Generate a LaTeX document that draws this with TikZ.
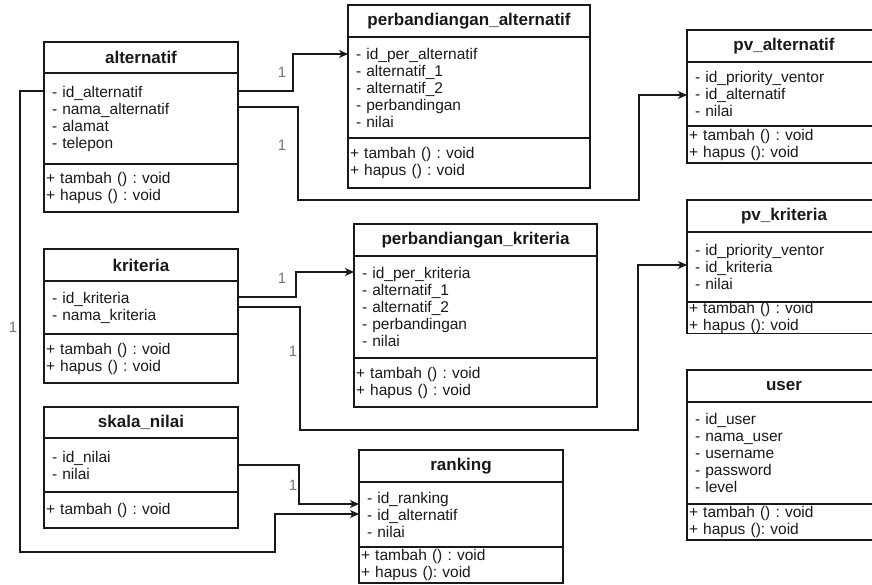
\documentclass[tikz,border=0pt]{standalone}
\usepackage{fontspec}
\setmainfont{Liberation Sans}
\usetikzlibrary{positioning,arrows.meta}
\frenchspacing

\begin{document}
\begin{tikzpicture}[x=1pt, y=-1pt,
  ctitle/.style={draw=black!90, line width=1.2pt, outer sep=0pt, anchor=north west, minimum width=#1,
    text=black!90, font=\fontsize{17}{20}\selectfont\bfseries},
  cattr/.style={draw=black!90, line width=1.2pt, outer sep=0pt, inner xsep=8pt, inner ysep=0pt, align=left,
    /utils/exec={\pgfmathsetlengthmacro\cw{#1-16}}, text width=\cw,
    text=black!90, font=\fontsize{15.5}{17}\selectfont},
  cmeth/.style={draw=black!90, line width=1.2pt, outer sep=0pt, inner xsep=2pt, inner ysep=0pt, align=left,
    /utils/exec={\pgfmathsetlengthmacro\cw{#1-4}}, text width=\cw,
    text=black!90, font=\fontsize{15.5}{17}\selectfont},
  conn/.style={draw=black!90, line width=1.1pt, -{Stealth[length=9pt,width=8pt,inset=2.5pt]}},
  lbl/.style={text=black!55, font=\fontsize{15}{17}\selectfont, inner sep=0pt}]
\useasboundingbox (0,0) rectangle (872,585);

\node[ctitle=194, minimum height=31] (alt) at (44,42) {alternatif};
\node[cattr=194, minimum height=91, below=0pt of alt] (alt-a) {- id\_alternatif\\- nama\_alternatif\\- alamat\\- telepon};
\node[cmeth=194, minimum height=48, below=0pt of alt-a] (alt-m) {+ tambah () : void\\+ hapus () : void};

\node[ctitle=242, minimum height=32] (pa) at (348,5) {perbandiangan\_alternatif};
\node[cattr=242, minimum height=101, below=0pt of pa] (pa-a) {- id\_per\_alternatif\\- alternatif\_1\\- alternatif\_2\\- perbandingan\\- nilai};
\node[cmeth=242, minimum height=50, below=0pt of pa-a] (pa-m) {+ tambah () : void\\+ hapus () : void};

\node[ctitle=194, minimum height=32] (pva) at (687,30) {pv\_alternatif};
\node[cattr=194, minimum height=64, below=0pt of pva] (pva-a) {- id\_priority\_ventor\\- id\_alternatif\\- nilai};
\node[cmeth=194, minimum height=37, below=0pt of pva-a] (pva-m) {+ tambah () : void\\+ hapus (): void};

\node[ctitle=194, minimum height=32] (kri) at (44,249) {kriteria};
\node[cattr=194, minimum height=53, below=0pt of kri] (kri-a) {- id\_kriteria\\- nama\_kriteria};
\node[cmeth=194, minimum height=49, below=0pt of kri-a] (kri-m) {+ tambah () : void\\+ hapus () : void};

\node[ctitle=243, minimum height=32] (pk) at (354,224) {perbandiangan\_kriteria};
\node[cattr=243, minimum height=102, below=0pt of pk] (pk-a) {- id\_per\_kriteria\\- alternatif\_1\\- alternatif\_2\\- perbandingan\\- nilai};
\node[cmeth=243, minimum height=49, below=0pt of pk-a] (pk-m) {+ tambah () : void\\+ hapus () : void};

\node[ctitle=194, minimum height=32] (pvk) at (687,200) {pv\_kriteria};
\node[cattr=194, minimum height=70, below=0pt of pvk] (pvk-a) {- id\_priority\_ventor\\- id\_kriteria\\- nilai};
\node[cmeth=194, minimum height=31, below=0pt of pvk-a] (pvk-m) {+ tambah () : void\\+ hapus (): void};

\node[ctitle=194, minimum height=31] (sn) at (44,407) {skala\_nilai};
\node[cattr=194, minimum height=54, below=0pt of sn] (sn-a) {- id\_nilai\\- nilai};
\node[cmeth=194, minimum height=36, below=0pt of sn-a] (sn-m) {+ tambah () : void};

\node[ctitle=204, minimum height=32] (rank) at (359,450) {ranking};
\node[cattr=204, minimum height=65, below=0pt of rank] (rank-a) {- id\_ranking\\- id\_alternatif\\- nilai};
\node[cmeth=204, minimum height=36, below=0pt of rank-a] (rank-m) {+ tambah () : void\\+ hapus (): void};

\node[ctitle=194, minimum height=32] (user) at (687,370) {user};
\node[cattr=194, minimum height=102, below=0pt of user] (user-a) {- id\_user\\- nama\_user\\- username\\- password\\- level};
\node[cmeth=194, minimum height=36, below=0pt of user-a] (user-m) {+ tambah () : void\\+ hapus (): void};

\draw[conn] ([yshift=-18pt]alt-a.north east) -- ++(55,0) |- ([yshift=-17pt]pa-a.north west);
\draw[conn] ([yshift=-34pt]alt-a.north east) -- ++(60,0) -- ++(0,93) -- ++(341,0) |- ([yshift=-33pt]pva-a.north west);
\draw[conn] ([yshift=-18pt]alt-a.north west) -- ++(-24,0) -- ++(0,461) -- ++(255,0) |- ([yshift=-32pt]rank-a.north west);
\draw[conn] ([yshift=-16pt]kri-a.north east) -- ++(58,0) |- ([yshift=-16pt]pk-a.north west);
\draw[conn] ([yshift=-26pt]kri-a.north east) -- ++(62,0) -- ++(0,123) -- ++(338,0) |- ([yshift=-33pt]pvk-a.north west);
\draw[conn] ([yshift=-27pt]sn-a.north east) -- ++(61,0) |- ([yshift=-22pt]rank-a.north west);

\node[lbl] (n1) at (282,72) {1};
\node[lbl] (n2) at (282,145) {1};
\node[lbl] (n3) at (13,327) {1};
\node[lbl] (n4) at (282,278) {1};
\node[lbl] (n5) at (293,351) {1};
\node[lbl] (n6) at (293,485) {1};
\end{tikzpicture}
\end{document}
